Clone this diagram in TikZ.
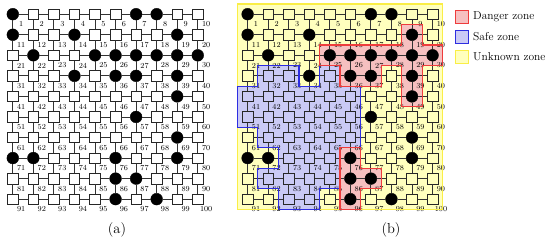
\documentclass[tikz,border=0pt]{standalone}
\definecolor{yfill}{RGB}{255,255,190}
\definecolor{yline}{RGB}{250,238,70}
\definecolor{bfill}{RGB}{202,202,245}
\definecolor{bline}{RGB}{45,45,225}
\definecolor{rfill}{RGB}{246,192,192}
\definecolor{rline}{RGB}{238,60,60}
\tikzset{
 sq/.style={draw=black!85, line width=0.6bp, fill=white, shape=rectangle, minimum size=10.5bp, inner sep=0pt},
 sqb/.style={sq, fill=none},
 blk/.style={circle, fill=black, draw=black, minimum size=11.8bp, inner sep=0pt},
 lbl/.style={font=\fontsize{7.7bp}{8bp}\selectfont, inner sep=0pt},
 conn/.style={draw=black!80, line width=0.9bp},
 zone/.style={line width=1.2bp, line join=miter},
 legbox/.style={minimum width=13bp, minimum height=13bp, inner sep=0pt, line width=1bp},
 legtxt/.style={font=\fontsize{11.5bp}{12bp}\selectfont, anchor=west, inner sep=0pt},
 captxt/.style={font=\fontsize{14.5bp}{15bp}\selectfont, inner sep=0pt},
}
\foreach \b in {1,7,8,11,14,19,22,25,26,27,28,29,30,34,36,37,39,49,57,69,71,72,76,79,86,87,96,98}{%
  \expandafter\gdef\csname isblk\b\endcsname{}}
\newcommand\mygrid[2]{%
 \foreach \r in {1,...,10}{\foreach \c in {1,...,10}{%
   \pgfmathtruncatemacro\n{(\r-1)*10+\c}%
   \pgfmathsetmacro\lx{\c+0.409}\pgfmathsetmacro\ly{\r+0.496}%
   \ifcsname isblk\n\endcsname \node[blk] (#1\n) at (\c,\r) {};%
   \else \node[#2] (#1\n) at (\c,\r) {};\fi
   \node[lbl] (#1l\n) at (\lx,\ly) {\n};
 }}%
 \foreach \r in {1,...,10}{\foreach \c in {1,...,9}{%
   \pgfmathtruncatemacro\n{(\r-1)*10+\c}\pgfmathtruncatemacro\m{\n+1}%
   \draw[conn] (#1\n) -- (#1\m);}}%
 \foreach \r in {1,...,9}{\foreach \c in {1,...,10}{%
   \pgfmathtruncatemacro\n{(\r-1)*10+\c}\pgfmathtruncatemacro\m{\n+10}%
   \draw[conn] (#1\n) -- (#1\m);}}%
}
\def\bluepoly{(0.5,4.5) -- (1.5,4.5) -- (1.5,3.5) -- (3.5,3.5) -- (3.5,4.5) -- (4.5,4.5) -- (4.5,3.5) -- (5.5,3.5) -- (5.5,4.5) -- (6.5,4.5) -- (6.5,7.5) -- (5.5,7.5) -- (5.5,9.5) -- (4.5,9.5) -- (4.5,10.5) -- (2.5,10.5) -- (2.5,9.5) -- (1.5,9.5) -- (1.5,8.5) -- (2.5,8.5) -- (2.5,7.5) -- (1.5,7.5) -- (1.5,6.5) -- (0.5,6.5) -- cycle}
\def\redpolya{(4.5,2.5) -- (8.5,2.5) -- (8.5,1.5) -- (9.5,1.5) -- (9.5,2.5) -- (10.5,2.5) -- (10.5,3.5) -- (9.5,3.5) -- (9.5,5.5) -- (8.5,5.5) -- (8.5,3.5) -- (7.5,3.5) -- (7.5,4.5) -- (5.5,4.5) -- (5.5,3.5) -- (4.5,3.5) -- cycle}
\def\redpolyb{(5.5,7.5) -- (6.5,7.5) -- (6.5,8.5) -- (7.5,8.5) -- (7.5,9.5) -- (6.5,9.5) -- (6.5,10.5) -- (5.5,10.5) -- cycle}
\begin{document}
\begin{tikzpicture}[x=20.55bp,y=-20.55bp]
\useasboundingbox (0,0) rectangle (26.764,11.776);
% (a)
\begin{scope}[shift={(-0.377,-0.309)}]
\mygrid{a}{sq}
\end{scope}
% (b)
\begin{scope}[shift={(11.049,-0.309)}]
\fill[yfill] (0.5,0.5) rectangle (10.5,10.5);
\fill[bfill] \bluepoly;
\fill[rfill] \redpolya;
\fill[rfill] \redpolyb;
\mygrid{b}{sqb}
\draw[zone, yline] (0.5,0.5) rectangle (10.5,10.5);
\draw[zone, bline] \bluepoly;
\draw[zone, rline] \redpolya;
\draw[zone, rline] \redpolyb;
\end{scope}
% legend and captions
\begin{scope}[x=1bp,y=-1bp]
\node[legbox, fill=rfill, draw=rline] (lr) at (461.5,16.5) {};
\node[legbox, fill=bfill, draw=bline] (lb) at (461.5,36.5) {};
\node[legbox, fill=yfill, draw=yline] (ly) at (461.5,56.5) {};
\node[legtxt] (tr) at (473,17) {Danger zone};
\node[legtxt] (tb) at (473,37) {Safe zone};
\node[legtxt] (ty) at (473,57) {Unknown zone};
\node[captxt] (ca) at (117,230) {(a)};
\node[captxt] (cb) at (391,230) {(b)};
\end{scope}
\end{tikzpicture}
\end{document}
